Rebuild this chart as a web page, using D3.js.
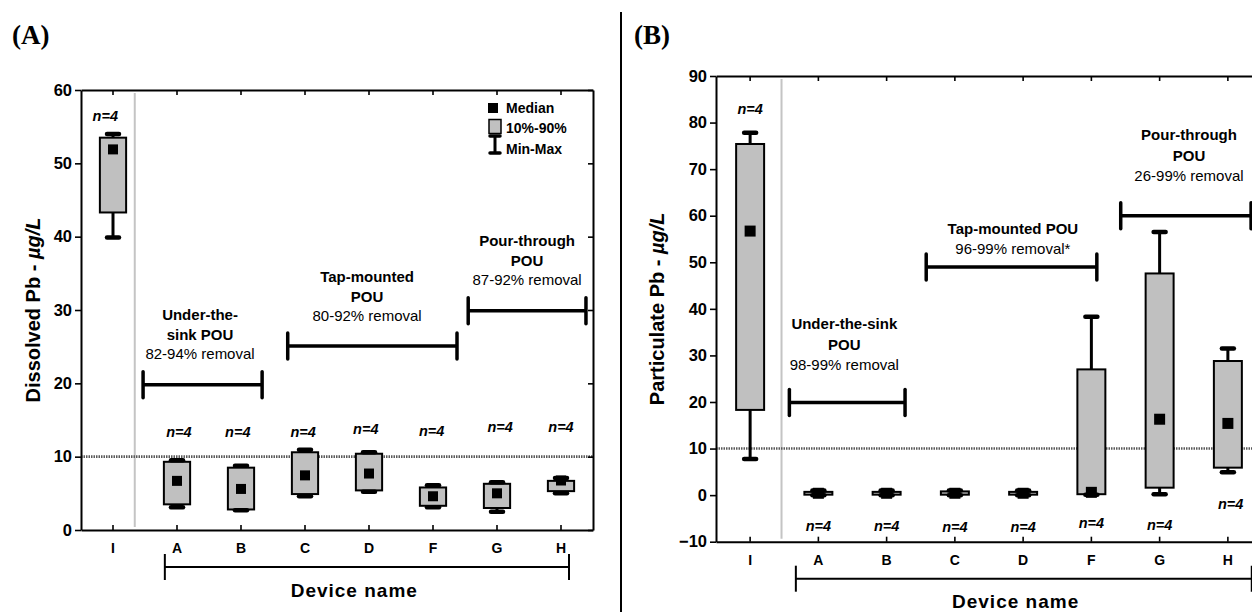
<!DOCTYPE html>
<html><head><meta charset="utf-8">
<script src="https://cdn.jsdelivr.net/npm/d3@7"></script>
<style>
body{margin:0;background:#fff}
svg{display:block}
text{font-family:"Liberation Sans",Arial,Helvetica,sans-serif;fill:#000}
</style>
</head><body>
<svg id="chart" width="1252" height="612"></svg>
<script>
// ---------------- DATA ----------------
const categories = ["I","A","B","C","D","F","G","H"];

// Panel A: dissolved Pb (µg/L)
const dissolvedMin    = [39.9, 3.1, 2.7, 4.6, 5.2, 3.1, 2.5, 5.0];
const dissolvedP10    = [43.3, 3.5, 2.8, 4.9, 5.4, 3.3, 3.0, 5.3];
const dissolvedMedian = [51.9, 6.7, 5.6, 7.45, 7.7, 4.6, 5.0, 6.75];
const dissolvedP90    = [53.5, 9.3, 8.5, 10.6, 10.4, 5.8, 6.3, 6.7];
const dissolvedMax    = [54.0, 9.5, 8.75, 10.95, 10.6, 6.1, 6.5, 7.1];
const dissolvedYTicks = [0, 10, 20, 30, 40, 50, 60];
const dissolvedNLabelAt = [56.5, 13.4, 13.4, 13.4, 13.8, 13.5, 14.0, 14.0];
const dissolvedNLabelX  = [-0.12, 0.03, -0.05, -0.03, -0.05, -0.02, 0.05, 0];
const dissolvedGroupNames = [
  ["Under-the-", "sink POU", "82-94% removal"],
  ["Tap-mounted", "POU", "80-92% removal"],
  ["Pour-through", "POU", "87-92% removal"]
];
const dissolvedGroupFrom  = [0.47, 2.73, 5.55];
const dissolvedGroupTo    = [2.33, 5.375, 7.39];
const dissolvedGroupLevel = [19.8, 25.1, 29.9];
const dissolvedGroupLabelX = [1.36, 3.97, 6.47];
const dissolvedGroupLabelY = [29.3, 34.5, 39.4];

// Panel B: particulate Pb (µg/L)
const particulateMin    = [7.75, 0.0, 0.0, 0.0, 0.0, 0.1, 0.2, 4.9];
const particulateP10    = [18.3, 0.1, 0.1, 0.1, 0.1, 0.2, 1.6, 5.9];
const particulateMedian = [56.7, 0.4, 0.4, 0.4, 0.4, 0.6, 16.3, 15.4];
const particulateP90    = [75.4, 0.7, 0.7, 0.8, 0.7, 27.0, 47.6, 28.8];
const particulateMax    = [77.8, 1.0, 1.0, 1.0, 1.0, 38.3, 56.5, 31.5];
const particulateYTicks = [-10, 0, 10, 20, 30, 40, 50, 60, 70, 80, 90];
const particulateNLabelAt = [83.0, -6.6, -6.6, -6.8, -6.8, -5.9, -6.3, -1.8];
const particulateNLabelX  = [0, 0, 0, 0, 0, 0, 0, 0.04];
const particulateGroupNames = [
  ["Under-the-sink", "POU", "98-99% removal"],
  ["Tap-mounted POU", "96-99% removal*"],
  ["Pour-through", "POU", "26-99% removal"]
];
const particulateGroupFrom  = [0.575, 2.58, 5.43];
const particulateGroupTo    = [2.27, 5.08, 7.34];
const particulateGroupLevel = [19.9, 49.0, 60.0];
const particulateGroupLabelX = [1.38, 3.85, 6.43];
const particulateGroupLabelY = [36.7, 57.3, 77.3];

const actionLevel = 10;
const sampleLabel = "n=4";
const legendLabels = ["Median", "10%-90%", "Min-Max"];

// ---------------- DRAW ----------------
const svg = d3.select("#chart");
svg.append("rect").attr("width", 1252).attr("height", 612).attr("fill", "#fff");

// separator between panels
svg.append("line").attr("x1", 621).attr("x2", 621).attr("y1", 12).attr("y2", 612)
  .attr("stroke", "#000").attr("stroke-width", 2);

function drawPanel(cfg) {
  const g = svg.append("g");
  const x = d3.scaleBand().domain(categories).range([cfg.left, cfg.right]);
  const bw = x.bandwidth();
  const xi = d3.scaleLinear().domain([0, categories.length - 1])
    .range([x(categories[0]) + bw / 2, x(categories[categories.length - 1]) + bw / 2]);
  const y = d3.scaleLinear().domain(cfg.domain).range([cfg.bottom, cfg.top]);

  // panel letter
  svg.append("text").attr("x", cfg.letterX).attr("y", 44)
    .style("font-family", '"Liberation Serif","Times New Roman",serif')
    .style("font-weight", "bold").style("font-size", "27px").text(cfg.letter);

  // gray separator line between I and the devices
  g.append("line").attr("x1", xi(cfg.sepAt)).attr("x2", xi(cfg.sepAt))
    .attr("y1", cfg.top + 3).attr("y2", cfg.bottom - 3)
    .attr("stroke", "#c4c4c4").attr("stroke-width", 2);

  // dotted action level line
  g.append("line").attr("x1", cfg.left).attr("x2", cfg.right)
    .attr("y1", y(actionLevel)).attr("y2", y(actionLevel))
    .attr("stroke", "#5a5a5a").attr("stroke-width", 2.6).attr("stroke-dasharray", "1.5,1");

  // axes
  const styleAxis = sel => {
    sel.select(".domain").attr("stroke", "#000").attr("stroke-width", 2);
    sel.selectAll(".tick line").attr("stroke", "#000").attr("stroke-width", 1.6);
    sel.selectAll(".tick text").style("font-weight", "bold").attr("fill", "#000");
  };
  g.append("g").attr("transform", `translate(${cfg.left},0)`)
    .call(d3.axisLeft(y).tickValues(cfg.ticks).tickSize(6).tickSizeOuter(0).tickPadding(3))
    .call(styleAxis)
    .call(s => s.selectAll(".tick text").style("font-size", "16.5px"));
  g.append("g").attr("transform", `translate(${cfg.right},0)`)
    .call(d3.axisRight(y).tickValues(cfg.ticks).tickSize(-5).tickSizeOuter(0).tickFormat(""))
    .call(styleAxis);
  g.append("g").attr("transform", `translate(0,${cfg.top})`)
    .call(d3.axisTop(x).tickSize(-5).tickSizeOuter(0).tickFormat(""))
    .call(styleAxis);
  g.append("g").attr("transform", `translate(0,${cfg.bottom})`)
    .call(d3.axisBottom(x).tickSize(-5).tickSizeOuter(0).tickPadding(13))
    .call(styleAxis)
    .call(s => s.selectAll(".tick text").style("font-size", "14px"));

  // boxes
  const boxW = bw * 0.41;
  const sq = cfg.medianSize;
  categories.forEach((c, i) => {
    const cx = x(c) + bw / 2;
    const gb = g.append("g");
    gb.append("line").attr("x1", cx).attr("x2", cx)
      .attr("y1", y(cfg.p90[i])).attr("y2", y(cfg.max[i]))
      .attr("stroke", "#000").attr("stroke-width", 3);
    gb.append("line").attr("x1", cx).attr("x2", cx)
      .attr("y1", y(cfg.p10[i])).attr("y2", y(cfg.min[i]))
      .attr("stroke", "#000").attr("stroke-width", 3);
    gb.append("rect").attr("x", cx - boxW / 2).attr("width", boxW)
      .attr("y", y(cfg.p90[i])).attr("height", Math.max(1, y(cfg.p10[i]) - y(cfg.p90[i])))
      .attr("fill", "#c0c0c0").attr("stroke", "#000").attr("stroke-width", 2);
    [cfg.max[i], cfg.min[i]].forEach(v => {
      gb.append("line").attr("x1", cx - 6).attr("x2", cx + 6)
        .attr("y1", y(v)).attr("y2", y(v))
        .attr("stroke", "#000").attr("stroke-width", 4.5).attr("stroke-linecap", "round");
    });
    gb.append("rect").attr("x", cx - sq / 2).attr("y", y(cfg.median[i]) - sq / 2)
      .attr("width", sq).attr("height", sq).attr("fill", "#000");
    // n label
    g.append("text").attr("x", xi(i + cfg.nX[i])).attr("y", y(cfg.nAt[i])).attr("dy", "0.35em")
      .attr("text-anchor", "middle").style("font-size", "14.5px")
      .style("font-weight", "bold").style("font-style", "italic").text(sampleLabel);
  });

  // group brackets
  cfg.groupNames.forEach((lines, k) => {
    const x1 = xi(cfg.groupFrom[k]), x2 = xi(cfg.groupTo[k]), yy = y(cfg.groupLevel[k]);
    g.append("line").attr("x1", x1).attr("x2", x2).attr("y1", yy).attr("y2", yy)
      .attr("stroke", "#000").attr("stroke-width", 3.5);
    [x1, x2].forEach(xx => g.append("line").attr("x1", xx).attr("x2", xx)
      .attr("y1", yy - 13).attr("y2", yy + 13)
      .attr("stroke", "#000").attr("stroke-width", 3.5).attr("stroke-linecap", "round"));
    const t = g.append("text").attr("text-anchor", "middle").style("font-size", "15px");
    lines.forEach((ln, j) => {
      t.append("tspan").attr("x", xi(cfg.groupLabelX[k]))
        .attr("y", y(cfg.groupLabelY[k]) + j * cfg.lineGap).attr("dy", "0.35em")
        .style("font-weight", j === lines.length - 1 ? "normal" : "bold").text(ln);
    });
  });

  // bottom device bracket
  const by = cfg.bottom + 37;
  const bx1 = xi(cfg.bracketFrom), bx2 = xi(cfg.bracketTo);
  g.append("line").attr("x1", bx1).attr("x2", bx2).attr("y1", by).attr("y2", by)
    .attr("stroke", "#000").attr("stroke-width", 2);
  [bx1, bx2].forEach(xx => g.append("line").attr("x1", xx).attr("x2", xx)
    .attr("y1", by - 13).attr("y2", by + 13).attr("stroke", "#000").attr("stroke-width", 2));
  g.append("text").attr("x", xi(cfg.xTitleAt)).attr("y", cfg.xTitleY).attr("dy", "0.35em")
    .attr("text-anchor", "middle").style("font-size", "19px").style("font-weight", "bold")
    .style("letter-spacing", "1px").text("Device name");

  // y title
  const yt = g.append("text").attr("text-anchor", "middle")
    .attr("transform", `translate(${cfg.yTitleX},${(cfg.top + cfg.bottom) / 2}) rotate(-90)`)
    .attr("dy", "0.35em").style("font-size", "20px").style("font-weight", "bold");
  yt.append("tspan").text(cfg.yTitle + " - ");
  yt.append("tspan").style("font-style", "italic").text("\u00b5g/L");

  return {x, y, xi};
}

const pA = drawPanel({
  letter: "(A)", letterX: 12,
  left: 81, right: 593, top: 90, bottom: 530, domain: [0, 60], ticks: dissolvedYTicks,
  min: dissolvedMin, p10: dissolvedP10, median: dissolvedMedian, p90: dissolvedP90, max: dissolvedMax,
  nAt: dissolvedNLabelAt, nX: dissolvedNLabelX, medianSize: 10, sepAt: 0.34,
  groupNames: dissolvedGroupNames, groupFrom: dissolvedGroupFrom, groupTo: dissolvedGroupTo,
  groupLevel: dissolvedGroupLevel, groupLabelX: dissolvedGroupLabelX, groupLabelY: dissolvedGroupLabelY,
  lineGap: 19.3, bracketFrom: 0.81, bracketTo: 7.125, xTitleAt: 3.77, xTitleY: 590,
  yTitle: "Dissolved Pb", yTitleX: 33
});

const pB = drawPanel({
  letter: "(B)", letterX: 634,
  left: 716, right: 1262, top: 76, bottom: 541.7, domain: [-10, 90], ticks: particulateYTicks,
  min: particulateMin, p10: particulateP10, median: particulateMedian, p90: particulateP90, max: particulateMax,
  nAt: particulateNLabelAt, nX: particulateNLabelX, medianSize: 11, sepAt: 0.46,
  groupNames: particulateGroupNames, groupFrom: particulateGroupFrom, groupTo: particulateGroupTo,
  groupLevel: particulateGroupLevel, groupLabelX: particulateGroupLabelX, groupLabelY: particulateGroupLabelY,
  lineGap: 20.3, bracketFrom: 0.67, bracketTo: 7.35, xTitleAt: 3.89, xTitleY: 601,
  yTitle: "Particulate Pb", yTitleX: 657
});

// legend (panel A, top right)
const lg = svg.append("g");
const lx = 488, ly = 103;
lg.append("rect").attr("x", lx).attr("y", ly).attr("width", 10).attr("height", 10).attr("fill", "#000");
lg.append("rect").attr("x", lx + 1).attr("y", ly + 16.5).attr("width", 12).attr("height", 14)
  .attr("fill", "#c0c0c0").attr("stroke", "#000").attr("stroke-width", 1.5);
lg.append("line").attr("x1", lx + 7).attr("x2", lx + 7).attr("y1", ly + 33).attr("y2", ly + 50)
  .attr("stroke", "#000").attr("stroke-width", 3);
[ly + 33, ly + 50].forEach(v => lg.append("line").attr("x1", lx + 2).attr("x2", lx + 12)
  .attr("y1", v).attr("y2", v).attr("stroke", "#000").attr("stroke-width", 3.5).attr("stroke-linecap", "round"));
legendLabels.forEach((t, i) => lg.append("text").attr("x", lx + 18).attr("y", ly + 5 + i * 20.5)
  .attr("dy", "0.35em").style("font-size", "14px").style("font-weight", "bold").text(t));
</script>
</body></html>
